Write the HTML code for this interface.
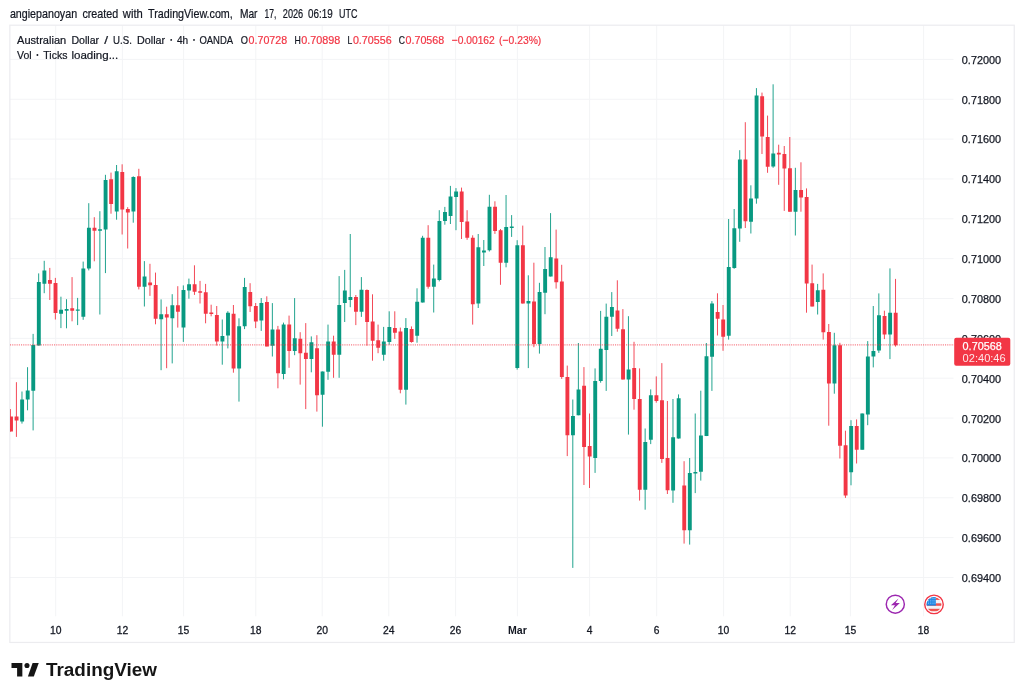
<!DOCTYPE html>
<html><head><meta charset="utf-8"><title>AUDUSD 4h</title>
<style>html,body{margin:0;padding:0;background:#fff;}body{width:1024px;height:698px;overflow:hidden;font-family:"Liberation Sans",sans-serif;}svg{display:block;will-change:transform;}text{font-family:"Liberation Sans",sans-serif;}</style>
</head><body>
<svg width="1024" height="698" viewBox="0 0 1024 698">
<rect x="0" y="0" width="1024" height="698" fill="#ffffff"/>
<defs><clipPath id="plot"><rect x="10" y="25.5" width="944" height="591"/></clipPath></defs>
<g stroke="#f3f4f6" stroke-width="1" fill="none">
<line x1="10" y1="59.40" x2="953.5" y2="59.40"/>
<line x1="10" y1="99.25" x2="953.5" y2="99.25"/>
<line x1="10" y1="139.10" x2="953.5" y2="139.10"/>
<line x1="10" y1="178.95" x2="953.5" y2="178.95"/>
<line x1="10" y1="218.80" x2="953.5" y2="218.80"/>
<line x1="10" y1="258.65" x2="953.5" y2="258.65"/>
<line x1="10" y1="298.50" x2="953.5" y2="298.50"/>
<line x1="10" y1="338.35" x2="953.5" y2="338.35"/>
<line x1="10" y1="378.20" x2="953.5" y2="378.20"/>
<line x1="10" y1="418.05" x2="953.5" y2="418.05"/>
<line x1="10" y1="457.90" x2="953.5" y2="457.90"/>
<line x1="10" y1="497.75" x2="953.5" y2="497.75"/>
<line x1="10" y1="537.60" x2="953.5" y2="537.60"/>
<line x1="10" y1="577.45" x2="953.5" y2="577.45"/>
<line x1="55.70" y1="25.5" x2="55.70" y2="616.3"/>
<line x1="122.40" y1="25.5" x2="122.40" y2="616.3"/>
<line x1="183.60" y1="25.5" x2="183.60" y2="616.3"/>
<line x1="255.80" y1="25.5" x2="255.80" y2="616.3"/>
<line x1="322.20" y1="25.5" x2="322.20" y2="616.3"/>
<line x1="388.80" y1="25.5" x2="388.80" y2="616.3"/>
<line x1="455.60" y1="25.5" x2="455.60" y2="616.3"/>
<line x1="517.40" y1="25.5" x2="517.40" y2="616.3"/>
<line x1="589.60" y1="25.5" x2="589.60" y2="616.3"/>
<line x1="656.70" y1="25.5" x2="656.70" y2="616.3"/>
<line x1="723.60" y1="25.5" x2="723.60" y2="616.3"/>
<line x1="790.20" y1="25.5" x2="790.20" y2="616.3"/>
<line x1="850.40" y1="25.5" x2="850.40" y2="616.3"/>
<line x1="923.60" y1="25.5" x2="923.60" y2="616.3"/>
</g>
<rect x="9.85" y="25.2" width="1004.4" height="617.25" fill="none" stroke="#ececef" stroke-width="1.2"/>
<g clip-path="url(#plot)">
<path d="M21.98 391.5V423.6M27.54 367.2V410.3M33.11 333.9V430.4M38.67 273.4V345.6M44.23 260.8V293.2M60.93 296.7V328.1M66.49 299.2V328.3M77.62 297.9V325.1M83.18 261.6V319.8M88.75 203.2V270.4M99.87 211.2V314.5M105.44 174.8V273.1M116.57 165.0V219.7M133.26 176.3V222.7M144.39 261.1V306.5M161.08 299.4V370.2M172.21 294.2V363.4M183.33 285.4V341.9M188.90 278.6V298.7M222.28 319.5V364.7M227.85 311.2V348.4M238.97 318.3V401.6M244.54 277.9V329.1M261.23 298.0V330.9M272.36 303.1V356.5M283.49 322.6V379.3M294.61 298.1V355.2M311.31 336.4V372.3M322.43 371.5V426.7M328.00 324.6V379.8M339.13 276.1V377.8M344.69 269.9V322.0M350.25 234.0V307.2M361.38 277.1V316.9M383.64 326.9V360.7M389.20 311.3V344.7M405.89 318.1V404.6M417.02 288.3V342.7M422.59 235.8V302.5M433.71 264.6V312.5M439.28 210.2V281.4M444.84 206.9V224.7M450.41 185.9V224.0M455.97 188.1V230.2M478.23 234.0V308.0M483.79 240.0V266.0M489.35 194.8V251.5M506.05 195.0V267.3M511.61 215.1V236.9M517.17 240.2V369.6M528.30 275.3V368.1M539.43 282.8V353.6M544.99 247.0V314.2M550.56 213.1V276.5M572.81 399.5V567.9M578.38 343.0V415.3M595.07 368.4V472.9M600.63 310.9V382.7M606.20 303.6V390.9M611.76 292.1V336.0M628.45 316.2V434.6M645.15 428.5V509.7M650.71 389.4V444.1M672.97 399.0V502.8M678.53 394.4V438.6M689.66 458.0V544.6M695.22 413.5V493.1M700.79 390.7V480.6M706.35 343.0V436.1M711.91 301.1V390.9M728.61 219.0V339.6M734.17 209.0V268.8M739.73 150.2V241.8M750.86 185.3V233.5M756.43 88.1V203.7M773.12 84.3V167.8M795.37 167.8V235.5M817.63 283.9V314.5M834.32 332.8V393.7M851.01 420.2V485.3M862.14 413.4V449.7M867.71 341.1V425.2M873.27 306.0V367.4M878.83 293.4V352.9M889.96 268.4V359.1" stroke="#089981" stroke-width="0.9" fill="none"/>
<path d="M10.40 409.1V431.6M16.41 382.2V436.9M49.80 267.9V300.0M55.36 277.9V319.5M72.05 277.1V321.3M94.31 217.2V261.3M111.00 172.6V213.7M122.13 164.3V234.5M127.69 207.2V248.5M138.82 168.8V289.4M149.95 263.8V295.9M155.51 272.6V324.3M166.64 306.7V368.2M177.77 286.2V327.6M194.46 265.3V294.9M200.03 280.9V303.5M205.59 283.9V323.3M211.15 304.7V316.3M216.72 306.0V345.6M233.41 305.0V372.7M250.10 283.2V312.0M255.67 303.0V328.1M266.79 296.3V346.4M277.92 325.9V388.3M289.05 315.6V367.8M300.18 332.2V384.6M305.74 323.1V409.1M316.87 335.2V411.6M333.56 335.7V377.8M355.82 295.0V325.1M366.95 289.4V345.7M372.51 294.3V360.7M378.07 324.6V353.2M394.77 311.3V338.9M400.33 327.6V393.3M411.46 326.4V342.7M428.15 225.2V288.7M461.53 187.6V239.0M467.10 210.2V239.8M472.66 235.3V324.6M494.92 201.3V233.9M500.48 229.0V284.8M522.74 225.6V303.6M533.87 262.7V347.2M556.12 229.6V288.6M561.69 264.8V378.9M567.25 365.6V456.1M583.94 367.1V485.0M589.51 413.5V488.0M617.33 280.3V331.7M622.89 309.1V379.6M634.02 341.8V409.7M639.58 368.4V500.6M656.27 376.4V402.7M661.84 363.1V462.9M667.40 401.0V494.0M684.09 461.2V543.6M717.48 293.3V335.5M723.04 305.0V350.8M745.30 122.2V228.0M761.99 92.6V154.0M767.55 115.6V172.8M778.68 144.7V184.8M784.25 146.0V210.9M789.81 137.0V211.7M800.94 162.3V211.7M806.50 188.4V312.7M812.07 264.6V306.5M823.19 273.4V339.6M828.76 324.0V425.7M839.89 342.8V458.5M845.45 430.7V497.9M856.58 419.4V463.5M884.40 310.7V339.1M895.53 278.9V346.6" stroke="#F23645" stroke-width="0.9" fill="none"/>
<path d="M20.18 399.5h3.9V421.4h-3.9zM25.74 390.5h3.9V399.5h-3.9zM31.31 345.1h3.9V390.8h-3.9zM36.87 282.1h3.9V345.6h-3.9zM42.43 270.6h3.9V283.7h-3.9zM59.13 309.7h3.9V313.7h-3.9zM64.69 309.0h3.9V310.7h-3.9zM75.82 309.6h3.9V310.8h-3.9zM81.38 268.4h3.9V316.7h-3.9zM86.95 227.7h3.9V268.6h-3.9zM98.07 229.2h3.9V230.7h-3.9zM103.64 180.1h3.9V229.5h-3.9zM114.77 171.3h3.9V211.4h-3.9zM131.46 177.1h3.9V211.4h-3.9zM142.59 276.6h3.9V286.7h-3.9zM159.28 314.2h3.9V319.3h-3.9zM170.41 305.3h3.9V318.2h-3.9zM181.53 289.9h3.9V327.6h-3.9zM187.10 284.2h3.9V290.4h-3.9zM220.48 335.9h3.9V341.4h-3.9zM226.05 312.7h3.9V335.6h-3.9zM237.17 326.3h3.9V368.5h-3.9zM242.74 286.9h3.9V326.3h-3.9zM259.43 303.1h3.9V320.6h-3.9zM270.56 329.6h3.9V345.7h-3.9zM281.69 324.6h3.9V374.0h-3.9zM292.81 338.2h3.9V351.0h-3.9zM309.51 342.2h3.9V359.0h-3.9zM320.63 371.5h3.9V394.8h-3.9zM326.20 341.4h3.9V371.8h-3.9zM337.33 305.1h3.9V354.7h-3.9zM342.89 290.5h3.9V303.0h-3.9zM348.45 297.1h3.9V300.0h-3.9zM359.58 289.7h3.9V311.8h-3.9zM381.84 341.4h3.9V354.7h-3.9zM387.40 327.1h3.9V341.9h-3.9zM404.09 328.1h3.9V389.8h-3.9zM415.22 301.8h3.9V335.7h-3.9zM420.79 237.8h3.9V302.5h-3.9zM431.91 278.6h3.9V286.7h-3.9zM437.48 221.0h3.9V279.9h-3.9zM443.04 211.9h3.9V221.0h-3.9zM448.61 196.4h3.9V215.9h-3.9zM454.17 191.4h3.9V196.9h-3.9zM476.43 247.3h3.9V303.5h-3.9zM481.99 250.5h3.9V252.5h-3.9zM487.55 206.8h3.9V250.2h-3.9zM504.25 227.1h3.9V262.7h-3.9zM509.81 226.4h3.9V227.9h-3.9zM515.37 245.2h3.9V368.1h-3.9zM526.50 301.1h3.9V303.6h-3.9zM537.63 292.1h3.9V344.0h-3.9zM543.19 269.0h3.9V292.8h-3.9zM548.76 257.2h3.9V276.5h-3.9zM571.01 416.0h3.9V435.3h-3.9zM576.58 389.4h3.9V415.3h-3.9zM593.27 380.9h3.9V457.9h-3.9zM598.83 348.8h3.9V380.9h-3.9zM604.40 316.7h3.9V350.1h-3.9zM609.96 307.1h3.9V316.7h-3.9zM626.65 369.4h3.9V379.4h-3.9zM643.35 442.0h3.9V489.7h-3.9zM648.91 395.2h3.9V439.8h-3.9zM671.17 437.3h3.9V490.5h-3.9zM676.73 398.2h3.9V438.6h-3.9zM687.86 473.0h3.9V530.3h-3.9zM693.42 471.9h3.9V473.4h-3.9zM698.99 435.6h3.9V471.8h-3.9zM704.55 356.3h3.9V436.1h-3.9zM710.11 303.6h3.9V356.8h-3.9zM726.81 267.0h3.9V335.8h-3.9zM732.37 228.3h3.9V268.0h-3.9zM737.93 159.5h3.9V228.5h-3.9zM749.06 198.6h3.9V221.7h-3.9zM754.63 95.6h3.9V198.6h-3.9zM771.32 153.5h3.9V166.5h-3.9zM793.57 189.9h3.9V211.7h-3.9zM815.83 290.2h3.9V302.0h-3.9zM832.52 345.3h3.9V383.4h-3.9zM849.21 425.9h3.9V472.3h-3.9zM860.34 413.4h3.9V449.7h-3.9zM865.91 356.6h3.9V414.6h-3.9zM871.47 350.9h3.9V356.6h-3.9zM877.03 315.3h3.9V350.4h-3.9zM888.16 312.7h3.9V334.6h-3.9z" fill="#089981"/>
<path d="M9.05 416.6h3.9V431.6h-3.9zM14.61 416.6h3.9V420.6h-3.9zM48.00 280.1h3.9V283.7h-3.9zM53.56 283.1h3.9V313.0h-3.9zM70.25 308.2h3.9V310.7h-3.9zM92.51 227.7h3.9V230.7h-3.9zM109.20 179.3h3.9V203.9h-3.9zM120.33 172.1h3.9V209.4h-3.9zM125.89 208.9h3.9V212.4h-3.9zM137.02 176.3h3.9V286.7h-3.9zM148.15 282.4h3.9V285.2h-3.9zM153.71 284.9h3.9V318.8h-3.9zM164.84 314.2h3.9V317.5h-3.9zM175.97 305.3h3.9V311.8h-3.9zM192.66 284.2h3.9V291.7h-3.9zM198.23 291.2h3.9V292.7h-3.9zM203.79 292.2h3.9V313.8h-3.9zM209.35 312.5h3.9V314.0h-3.9zM214.92 315.0h3.9V341.4h-3.9zM231.61 313.7h3.9V368.5h-3.9zM248.30 292.0h3.9V306.3h-3.9zM253.87 305.9h3.9V321.4h-3.9zM264.99 302.1h3.9V346.4h-3.9zM276.12 329.6h3.9V373.3h-3.9zM287.25 324.6h3.9V351.0h-3.9zM298.38 338.7h3.9V353.2h-3.9zM303.94 352.7h3.9V359.0h-3.9zM315.07 348.2h3.9V395.3h-3.9zM331.76 341.4h3.9V354.7h-3.9zM354.02 297.1h3.9V311.8h-3.9zM365.15 290.0h3.9V322.1h-3.9zM370.71 321.4h3.9V340.7h-3.9zM376.27 340.2h3.9V347.7h-3.9zM392.97 328.1h3.9V332.7h-3.9zM398.53 331.4h3.9V389.8h-3.9zM409.66 328.9h3.9V341.9h-3.9zM426.35 237.8h3.9V286.7h-3.9zM459.73 191.4h3.9V222.0h-3.9zM465.30 221.5h3.9V237.8h-3.9zM470.86 237.8h3.9V304.2h-3.9zM493.12 206.8h3.9V230.9h-3.9zM498.68 230.2h3.9V262.7h-3.9zM520.94 245.2h3.9V303.6h-3.9zM532.07 301.6h3.9V344.0h-3.9zM554.32 258.5h3.9V282.3h-3.9zM559.89 281.6h3.9V377.1h-3.9zM565.45 377.1h3.9V435.3h-3.9zM582.14 385.7h3.9V447.1h-3.9zM587.71 446.1h3.9V456.6h-3.9zM615.53 310.4h3.9V328.7h-3.9zM621.09 329.2h3.9V379.6h-3.9zM632.22 368.1h3.9V399.0h-3.9zM637.78 399.0h3.9V489.7h-3.9zM654.47 395.2h3.9V401.0h-3.9zM660.04 400.2h3.9V459.1h-3.9zM665.60 457.9h3.9V490.3h-3.9zM682.29 485.6h3.9V530.3h-3.9zM715.68 312.1h3.9V318.7h-3.9zM721.24 319.4h3.9V336.7h-3.9zM743.50 159.5h3.9V221.2h-3.9zM760.19 96.3h3.9V136.4h-3.9zM765.75 137.0h3.9V166.8h-3.9zM776.88 152.7h3.9V154.5h-3.9zM782.45 154.0h3.9V168.5h-3.9zM788.01 168.3h3.9V211.7h-3.9zM799.14 189.9h3.9V197.4h-3.9zM804.70 197.1h3.9V283.4h-3.9zM810.27 283.2h3.9V306.5h-3.9zM821.39 289.7h3.9V332.3h-3.9zM826.96 332.1h3.9V383.4h-3.9zM838.09 345.3h3.9V445.7h-3.9zM843.65 445.2h3.9V495.4h-3.9zM854.78 425.9h3.9V449.7h-3.9zM882.60 316.0h3.9V334.6h-3.9zM893.73 312.7h3.9V345.3h-3.9z" fill="#F23645"/>
</g>
<line x1="10" y1="344.9" x2="954" y2="344.9" stroke="#F23645" stroke-opacity="0.65" stroke-width="1.25" stroke-dasharray="1.1 1.1"/>
<g fill="#131722" stroke="#131722" stroke-width="0.25" font-size="11.6px">
<text x="961.8" y="63.75" textLength="39.4" lengthAdjust="spacingAndGlyphs">0.72000</text>
<text x="961.8" y="103.62" textLength="39.4" lengthAdjust="spacingAndGlyphs">0.71800</text>
<text x="961.8" y="143.49" textLength="39.4" lengthAdjust="spacingAndGlyphs">0.71600</text>
<text x="961.8" y="183.36" textLength="39.4" lengthAdjust="spacingAndGlyphs">0.71400</text>
<text x="961.8" y="223.23" textLength="39.4" lengthAdjust="spacingAndGlyphs">0.71200</text>
<text x="961.8" y="263.10" textLength="39.4" lengthAdjust="spacingAndGlyphs">0.71000</text>
<text x="961.8" y="302.97" textLength="39.4" lengthAdjust="spacingAndGlyphs">0.70800</text>
<text x="961.8" y="342.84" textLength="39.4" lengthAdjust="spacingAndGlyphs">0.70600</text>
<text x="961.8" y="382.71" textLength="39.4" lengthAdjust="spacingAndGlyphs">0.70400</text>
<text x="961.8" y="422.58" textLength="39.4" lengthAdjust="spacingAndGlyphs">0.70200</text>
<text x="961.8" y="462.45" textLength="39.4" lengthAdjust="spacingAndGlyphs">0.70000</text>
<text x="961.8" y="502.32" textLength="39.4" lengthAdjust="spacingAndGlyphs">0.69800</text>
<text x="961.8" y="542.19" textLength="39.4" lengthAdjust="spacingAndGlyphs">0.69600</text>
<text x="961.8" y="582.06" textLength="39.4" lengthAdjust="spacingAndGlyphs">0.69400</text>
</g>
<rect x="954.2" y="337.8" width="56.1" height="27.9" rx="2" ry="2" fill="#F23645"/>
<text x="962.6" y="349.7" font-size="11.6px" fill="#ffffff" stroke="#ffffff" stroke-width="0.25" textLength="39.2" lengthAdjust="spacingAndGlyphs">0.70568</text>
<text x="962.6" y="362.45" font-size="11.6px" fill="#ffffff" fill-opacity="0.88" textLength="43.1" lengthAdjust="spacingAndGlyphs">02:40:46</text>
<g fill="#131722" stroke="#131722" stroke-width="0.3" font-size="11.5px" text-anchor="middle">
<text x="55.70" y="633.7" textLength="11.5" lengthAdjust="spacingAndGlyphs">10</text>
<text x="122.40" y="633.7" textLength="11.5" lengthAdjust="spacingAndGlyphs">12</text>
<text x="183.60" y="633.7" textLength="11.5" lengthAdjust="spacingAndGlyphs">15</text>
<text x="255.80" y="633.7" textLength="11.5" lengthAdjust="spacingAndGlyphs">18</text>
<text x="322.20" y="633.7" textLength="11.5" lengthAdjust="spacingAndGlyphs">20</text>
<text x="388.80" y="633.7" textLength="11.5" lengthAdjust="spacingAndGlyphs">24</text>
<text x="455.60" y="633.7" textLength="11.5" lengthAdjust="spacingAndGlyphs">26</text>
<text x="517.40" y="633.7" font-weight="bold" stroke-width="0" textLength="18.8" lengthAdjust="spacingAndGlyphs">Mar</text>
<text x="589.60" y="633.7" textLength="5.7" lengthAdjust="spacingAndGlyphs">4</text>
<text x="656.70" y="633.7" textLength="5.7" lengthAdjust="spacingAndGlyphs">6</text>
<text x="723.60" y="633.7" textLength="11.5" lengthAdjust="spacingAndGlyphs">10</text>
<text x="790.20" y="633.7" textLength="11.5" lengthAdjust="spacingAndGlyphs">12</text>
<text x="850.40" y="633.7" textLength="11.5" lengthAdjust="spacingAndGlyphs">15</text>
<text x="923.60" y="633.7" textLength="11.5" lengthAdjust="spacingAndGlyphs">18</text>
</g>
<text x="9.9" y="18.35" font-size="12.2px" fill="#131722" textLength="67.2" lengthAdjust="spacingAndGlyphs" stroke="#131722" stroke-width="0.22">angiepanoyan</text>
<text x="82.4" y="18.35" font-size="12.2px" fill="#131722" textLength="35.8" lengthAdjust="spacingAndGlyphs" stroke="#131722" stroke-width="0.22">created</text>
<text x="122.8" y="18.35" font-size="12.2px" fill="#131722" textLength="20.0" lengthAdjust="spacingAndGlyphs" stroke="#131722" stroke-width="0.22">with</text>
<text x="148.1" y="18.35" font-size="12.2px" fill="#131722" textLength="84.7" lengthAdjust="spacingAndGlyphs" stroke="#131722" stroke-width="0.22">TradingView.com,</text>
<text x="239.9" y="18.35" font-size="12.2px" fill="#131722" textLength="17.6" lengthAdjust="spacingAndGlyphs" stroke="#131722" stroke-width="0.22">Mar</text>
<text x="264.6" y="18.35" font-size="12.2px" fill="#131722" textLength="11.8" lengthAdjust="spacingAndGlyphs" stroke="#131722" stroke-width="0.22">17,</text>
<text x="282.8" y="18.35" font-size="12.2px" fill="#131722" textLength="20.4" lengthAdjust="spacingAndGlyphs" stroke="#131722" stroke-width="0.22">2026</text>
<text x="308.1" y="18.35" font-size="12.2px" fill="#131722" textLength="24.6" lengthAdjust="spacingAndGlyphs" stroke="#131722" stroke-width="0.22">06:19</text>
<text x="339.0" y="18.35" font-size="12.2px" fill="#131722" textLength="18.4" lengthAdjust="spacingAndGlyphs" stroke="#131722" stroke-width="0.22">UTC</text>
<text x="17.0" y="43.5" font-size="11.5px" fill="#131722" textLength="49.2" lengthAdjust="spacingAndGlyphs" stroke="#131722" stroke-width="0.22">Australian</text>
<text x="71.4" y="43.5" font-size="11.5px" fill="#131722" textLength="27.7" lengthAdjust="spacingAndGlyphs" stroke="#131722" stroke-width="0.22">Dollar</text>
<text x="104.2" y="43.5" font-size="11.5px" fill="#131722" textLength="3.8" lengthAdjust="spacingAndGlyphs" stroke="#131722" stroke-width="0.22">/</text>
<text x="113.1" y="43.5" font-size="11.5px" fill="#131722" textLength="18.8" lengthAdjust="spacingAndGlyphs" stroke="#131722" stroke-width="0.22">U.S.</text>
<text x="137.0" y="43.5" font-size="11.5px" fill="#131722" textLength="28.1" lengthAdjust="spacingAndGlyphs" stroke="#131722" stroke-width="0.22">Dollar</text>
<text x="176.9" y="43.5" font-size="11.5px" fill="#131722" textLength="11.2" lengthAdjust="spacingAndGlyphs" stroke="#131722" stroke-width="0.22">4h</text>
<text x="199.4" y="43.5" font-size="11.5px" fill="#131722" textLength="33.7" lengthAdjust="spacingAndGlyphs" stroke="#131722" stroke-width="0.22">OANDA</text>
<text x="240.8" y="43.5" font-size="11.5px" fill="#131722" textLength="7.2" lengthAdjust="spacingAndGlyphs" stroke="#131722" stroke-width="0.22">O</text>
<text x="294.6" y="43.5" font-size="11.5px" fill="#131722" textLength="6.3" lengthAdjust="spacingAndGlyphs" stroke="#131722" stroke-width="0.22">H</text>
<text x="347.6" y="43.5" font-size="11.5px" fill="#131722" textLength="4.8" lengthAdjust="spacingAndGlyphs" stroke="#131722" stroke-width="0.22">L</text>
<text x="398.8" y="43.5" font-size="11.5px" fill="#131722" textLength="6.2" lengthAdjust="spacingAndGlyphs" stroke="#131722" stroke-width="0.22">C</text>
<text x="17.0" y="58.6" font-size="11.5px" fill="#131722" textLength="14.6" lengthAdjust="spacingAndGlyphs" stroke="#131722" stroke-width="0.22">Vol</text>
<text x="43.3" y="58.6" font-size="11.5px" fill="#131722" textLength="24.1" lengthAdjust="spacingAndGlyphs" stroke="#131722" stroke-width="0.22">Ticks</text>
<text x="71.4" y="58.6" font-size="11.5px" fill="#131722" textLength="46.9" lengthAdjust="spacingAndGlyphs" stroke="#131722" stroke-width="0.22">loading...</text>
<text x="248.6" y="43.5" font-size="11.5px" fill="#F23645" textLength="38.5" lengthAdjust="spacingAndGlyphs" stroke="#F23645" stroke-width="0.22">0.70728</text>
<text x="301.3" y="43.5" font-size="11.5px" fill="#F23645" textLength="39.1" lengthAdjust="spacingAndGlyphs" stroke="#F23645" stroke-width="0.22">0.70898</text>
<text x="352.9" y="43.5" font-size="11.5px" fill="#F23645" textLength="38.7" lengthAdjust="spacingAndGlyphs" stroke="#F23645" stroke-width="0.22">0.70556</text>
<text x="405.5" y="43.5" font-size="11.5px" fill="#F23645" textLength="38.7" lengthAdjust="spacingAndGlyphs" stroke="#F23645" stroke-width="0.22">0.70568</text>
<text x="451.7" y="43.5" font-size="11.5px" fill="#F23645" textLength="43.1" lengthAdjust="spacingAndGlyphs" stroke="#F23645" stroke-width="0.22">−0.00162</text>
<text x="499.0" y="43.5" font-size="11.5px" fill="#F23645" textLength="42.3" lengthAdjust="spacingAndGlyphs" stroke="#F23645" stroke-width="0.22">(−0.23%)</text>
<circle cx="171.2" cy="39.9" r="0.95" fill="#131722"/>
<circle cx="194.0" cy="39.9" r="0.95" fill="#131722"/>
<circle cx="37.4" cy="55.0" r="0.95" fill="#131722"/>
<g>
<circle cx="895.3" cy="604.2" r="9.05" fill="#ffffff" stroke="#9c27b0" stroke-width="1.45"/>
<path d="M898.5 598.6 L890.9 605.3 L895.0 605.3 L892.2 609.9 L899.9 603.1 L895.7 603.1 Z" fill="#9c27b0"/>
</g>
<defs><clipPath id="flagc"><circle cx="934" cy="604.4" r="7.4"/></clipPath></defs>
<circle cx="934" cy="604.4" r="9.25" fill="#ffffff" stroke="#F23645" stroke-width="1.4"/>
<g clip-path="url(#flagc)">
<rect x="926" y="596" width="16" height="17" fill="#f3f3f6"/>
<rect x="926" y="597.8" width="16" height="2.1" fill="#ef5350"/>
<rect x="926" y="603.3" width="16" height="2.5" fill="#ef5350"/>
<rect x="926" y="608.8" width="16" height="2.5" fill="#ef5350"/>
<rect x="926" y="596" width="9.9" height="9.6" fill="#1e88e5"/>
<g fill="#e3f2fd">
<rect x="928.20" y="598.30" width="0.8" height="0.8"/>
<rect x="930.40" y="598.30" width="0.8" height="0.8"/>
<rect x="932.60" y="598.30" width="0.8" height="0.8"/>
<rect x="934.60" y="598.30" width="0.8" height="0.8"/>
<rect x="928.20" y="600.50" width="0.8" height="0.8"/>
<rect x="930.40" y="600.50" width="0.8" height="0.8"/>
<rect x="932.60" y="600.50" width="0.8" height="0.8"/>
<rect x="934.60" y="600.50" width="0.8" height="0.8"/>
<rect x="928.20" y="602.70" width="0.8" height="0.8"/>
<rect x="930.40" y="602.70" width="0.8" height="0.8"/>
<rect x="932.60" y="602.70" width="0.8" height="0.8"/>
<rect x="934.60" y="602.70" width="0.8" height="0.8"/>
</g>
</g>
<g fill="#151515">
<path d="M11.5 663H22.35V676.5H17.1V668H11.5Z"/><circle cx="27.0" cy="665.45" r="2.55"/><path d="M32.6 663H38.75L33.8 676.5H27.9Z"/>
</g>
<text x="46.0" y="676.4" font-size="18px" font-weight="bold" fill="#151515" textLength="111" lengthAdjust="spacingAndGlyphs">TradingView</text>
</svg>
</body></html>
